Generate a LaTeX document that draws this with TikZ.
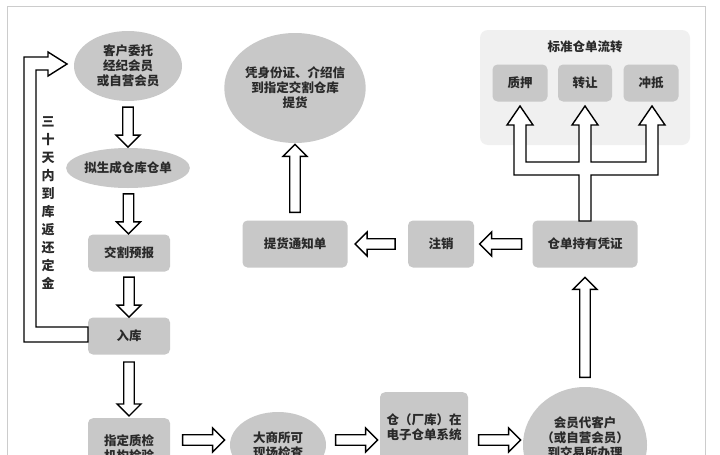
\documentclass[tikz,border=0pt]{standalone}
\usepackage{fontspec}
\setmainfont{Noto Sans CJK SC}
\usetikzlibrary{shapes.geometric,shapes.arrows,calc}
\definecolor{boxg}{HTML}{C8C8C8}
\definecolor{grpg}{HTML}{F0F0F0}
\definecolor{txt}{HTML}{2A2A2A}
\tikzset{
 every node/.style={font=\fontsize{12.5}{15}\selectfont\bfseries, text=txt, align=center},
 ell/.style={ellipse, fill=boxg, inner sep=0pt},
 rbox/.style={rounded corners=5pt, fill=boxg, inner sep=0pt},
 harr/.style={single arrow, draw=black, line width=1.4pt, fill=white, inner sep=4pt,
   minimum width=24pt, single arrow head extend=6pt, single arrow head indent=0pt},
 hol/.style={draw=black, line width=1.4pt, fill=white, line join=miter}
}
\begin{document}
\begin{tikzpicture}[x=1pt,y=-1pt]
\useasboundingbox (0,0) rectangle (720,455);
\fill[white] (0,0) rectangle (720,455);
\draw[black!20, line width=1pt] (7,460) -- (7,6) -- (705,6) -- (705,460);
% group
\fill[grpg, rounded corners=8pt] (480,30) rectangle (690,145);
\node (title) at (585,47) {标准仓单流转};
\node[rbox, minimum width=55pt, minimum height=37pt] (zy) at (520,83) {质押};
\node[rbox, minimum width=54pt, minimum height=37pt] (zr) at (585,83) {转让};
\node[rbox, minimum width=55pt, minimum height=37pt] (cd) at (651,83) {冲抵};
% left column
\node[ell, minimum width=108pt, minimum height=70pt] (e1) at (128,66) {客户委托\\经纪会员\\或自营会员};
\node[ell, minimum width=116pt, minimum height=40pt] (e2) at (128,168) {拟生成仓库仓单};
\node[rbox, minimum width=82pt, minimum height=37pt] (jg) at (129,253) {交割预报};
\node[rbox, minimum width=82pt, minimum height=37pt] (rk) at (129,336) {入库};
\node[rbox, minimum width=82pt, minimum height=60pt, anchor=north] (zj) at (129,418) {指定质检\\机构检验};
\node[ell, minimum width=96pt, minimum height=66pt] (dsh) at (278,445) {大商所可\\现场检查};
\node[rbox, minimum width=88pt, minimum height=70pt, anchor=north] (ck) at (424,392) {仓（厂库）在\\电子仓单系统};
\node[ell, minimum width=124pt, minimum height=116pt] (hy) at (585,445) {会员代客户\\（或自营会员）\\到交易所办理\\ };
\node[rbox, minimum width=105pt, minimum height=47pt] (cy) at (585,244) {仓单持有凭证};
\node[rbox, minimum width=66pt, minimum height=47pt] (zx) at (441,244) {注销};
\node[rbox, minimum width=105pt, minimum height=47pt] (th) at (295,244) {提货通知单};
\node[ell, minimum width=140pt, minimum height=110pt] (e3) at (295,88) {凭身份证、介绍信\\到指定交割仓库\\提货};
% arrows
\node[harr, minimum height=40pt, shape border rotate=270] (a1) at ($(e1.south)!.5!(e2.north)$) {};
\node[harr, minimum height=40pt, shape border rotate=270] (a2) at ($(e2.south)!.5!(jg.north)$) {};
\node[harr, minimum height=40pt, shape border rotate=270] (a3) at ($(jg.south)!.5!(rk.north)$) {};
\node[harr, minimum height=54pt, shape border rotate=270] (a4) at ($(rk.south)!.5!(zj.north)$) {};
\node[harr, minimum height=42pt] (a5) at (201,440) {};
\node[harr, minimum height=42pt] (a6) at (354,440) {};
\node[harr, minimum height=42pt] (a7) at (497,440) {};
\node[harr, minimum height=100pt, shape border rotate=90] (a8) at (585,330) {};
\node[harr, minimum height=42pt, shape border rotate=180] (a9) at ($(cy.west)!.5!(zx.east)$) {};
\node[harr, minimum height=40pt, shape border rotate=180] (a10) at ($(zx.west)!.5!(th.east)$) {};
\node[harr, minimum height=68pt, shape border rotate=90] (a11) at (295,181) {};
% trident
\draw[hol] (579,221) -- (579,175) -- (514,175) -- (514,125) -- (507,125) -- (520,106) -- (533,125) -- (526,125) -- (526,162) -- (579,162) -- (579,125) -- (572,125) -- (585,106) -- (598,125) -- (591,125) -- (591,162) -- (646,162) -- (646,125) -- (639,125) -- (652,106) -- (665,125) -- (658,125) -- (658,175) -- (591,175) -- (591,221) -- cycle;
% feedback loop
\draw[hol] (88,342) -- (24,342) -- (24,57) -- (48,57) -- (48,52) -- (67,64) -- (48,76) -- (48,70) -- (36,70) -- (36,327) -- (88,327) -- cycle;
\node[text width=14pt, font=\fontsize{13}{18}\selectfont\bfseries] (fb) at (48,203) {三\\十\\天\\内\\到\\库\\返\\还\\定\\金};
\end{tikzpicture}
\end{document}
